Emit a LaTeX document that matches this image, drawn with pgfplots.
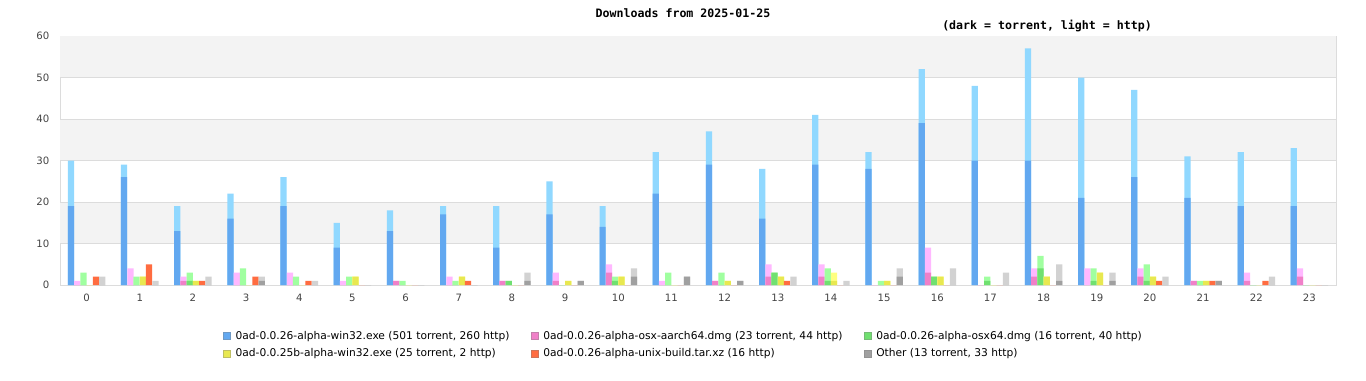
\documentclass[border=0pt]{standalone}
\usepackage{fontspec}
\setmainfont{DejaVu Sans}
\newfontfamily\monofont{DejaVu Sans Mono}
\usepackage{pgfplots}
\usepackage{pgfplotstable}
\pgfplotsset{compat=1.18}

\definecolor{cWd}{HTML}{62A8F0}
\definecolor{cWl}{HTML}{90D8FF}
\definecolor{cPd}{HTML}{F080C8}
\definecolor{cPl}{HTML}{FFB8FF}
\definecolor{cGd}{HTML}{70E070}
\definecolor{cGl}{HTML}{A0FFA0}
\definecolor{cYd}{HTML}{E8E850}
\definecolor{cYl}{HTML}{FFFF80}
\definecolor{cR}{HTML}{FF6C40}
\definecolor{cOd}{HTML}{A0A0A0}
\definecolor{cOl}{HTML}{D2D2D2}
\definecolor{stripe}{HTML}{F3F3F3}
\definecolor{gridc}{HTML}{DCDCDC}
\definecolor{txt}{HTML}{444444}

% h: hour; xT = torrent; xA = torrent+http (total)
\pgfplotstableread{
h wT wA pT pA gT gA yT yA r oT oA
0 19 30 0 1 0 3 0 0 2 0 2
1 26 29 0 4 0 2 2 2 5 0 1
2 13 19 1 2 1 3 1 1 1 0 2
3 16 22 0 3 0 4 0 0 2 1 2
4 19 26 0 3 0 2 0 0 1 0 1
5 9 15 0 1 0 2 2 2 0 0 0
6 13 18 1 1 0 1 0 0 0 0 0
7 17 19 0 2 0 1 2 2 1 0 0
8 9 19 1 1 1 1 0 0 0 1 3
9 17 25 1 3 0 0 1 1 0 1 1
10 14 19 3 5 1 2 2 2 0 2 4
11 22 32 0 1 0 3 0 0 0 2 2
12 29 37 1 1 0 3 1 1 0 1 1
13 16 28 2 5 3 3 2 2 1 0 2
14 29 41 2 5 1 4 1 3 0 0 1
15 28 32 0 0 0 1 1 1 0 2 4
16 39 52 3 9 2 2 2 2 0 0 4
17 30 48 0 0 1 2 0 0 0 0 3
18 30 57 2 4 4 7 2 2 0 1 5
19 21 50 0 4 1 4 3 3 0 1 3
20 26 47 2 4 1 5 2 2 1 0 2
21 21 31 1 1 0 1 1 1 1 1 1
22 19 32 1 3 0 0 0 0 1 0 2
23 19 33 2 4 0 0 0 0 0 0 0
}\data

\pgfplotsset{
  mybar/.style={ybar, bar width=0.1175, bar shift=0pt, draw=none, fill=#1, forget plot},
  legsq/.style={legend image code/.code={\draw[fill=#1,draw=#1!60!gray,line width=0.45pt] (0pt,-2.6pt) rectangle (5.2pt,2.6pt);}}
}

\begin{document}
\begin{tikzpicture}
\useasboundingbox[fill=white] (0,0) rectangle (1024.5pt,285pt);
\node[font=\monofont\bfseries\fontsize{8.7}{10}\selectfont, text=black] at (512.25pt,275.25pt) {Downloads from 2025-01-25};
\node[font=\monofont\bfseries\fontsize{8.7}{10}\selectfont, text=black] at (785.25pt,265.5pt) {(dark = torrent, light = http)};
\begin{axis}[
  at={(45pt,71.25pt)}, anchor=south west,
  scale only axis, width=957pt, height=186.75pt,
  xmin=-0.5, xmax=23.5, ymin=0, ymax=60,
  xtick={0,...,23}, ytick={0,10,...,60},
  major tick length=0pt,
  axis line style={draw=gridc},
  tick label style={font=\fontsize{7.6}{9}\selectfont, text=txt},
  /pgf/number format/assume math mode=true,
  yticklabel style={xshift=-4.5pt},
  xticklabel style={yshift=-3.5pt},
  clip=false,
  legend columns=3,
  legend cell align=left,
  legend style={at={(0.4886,-0.165)}, anchor=north, draw=none, fill=none,
    font=\fontsize{8}{9.5}\selectfont, text=black,
    /tikz/every odd column/.append style={column sep=2.2pt},
    /tikz/every even column/.append style={column sep=14.5pt},
    row sep=2.5pt, nodes={inner sep=1.5pt}},
]
\fill[stripe] (axis cs:-0.5,10) rectangle (axis cs:23.5,20);
\fill[stripe] (axis cs:-0.5,30) rectangle (axis cs:23.5,40);
\fill[stripe] (axis cs:-0.5,50) rectangle (axis cs:23.5,60);
\draw[gridc, line width=0.6pt] (axis cs:-0.5,10) -- (axis cs:23.5,10);
\draw[gridc, line width=0.6pt] (axis cs:-0.5,20) -- (axis cs:23.5,20);
\draw[gridc, line width=0.6pt] (axis cs:-0.5,30) -- (axis cs:23.5,30);
\draw[gridc, line width=0.6pt] (axis cs:-0.5,40) -- (axis cs:23.5,40);
\draw[gridc, line width=0.6pt] (axis cs:-0.5,50) -- (axis cs:23.5,50);

\addplot[mybar=cWl] table[x expr=\thisrow{h}-0.294, y=wA]{\data};
\addplot[mybar=cWd] table[x expr=\thisrow{h}-0.294, y=wT]{\data};
\addplot[mybar=cPl] table[x expr=\thisrow{h}-0.176, y=pA]{\data};
\addplot[mybar=cPd] table[x expr=\thisrow{h}-0.176, y=pT]{\data};
\addplot[mybar=cGl] table[x expr=\thisrow{h}-0.059, y=gA]{\data};
\addplot[mybar=cGd] table[x expr=\thisrow{h}-0.059, y=gT]{\data};
\addplot[mybar=cYl] table[x expr=\thisrow{h}+0.059, y=yA]{\data};
\addplot[mybar=cYd] table[x expr=\thisrow{h}+0.059, y=yT]{\data};
\addplot[mybar=cR] table[x expr=\thisrow{h}+0.176, y=r]{\data};
\addplot[mybar=cOl] table[x expr=\thisrow{h}+0.294, y=oA]{\data};
\addplot[mybar=cOd] table[x expr=\thisrow{h}+0.294, y=oT]{\data};

\addlegendimage{legsq=cWd}\addlegendentry{0ad-0.0.26-alpha-win32.exe (501 torrent, 260 http)}
\addlegendimage{legsq=cPd}\addlegendentry{0ad-0.0.26-alpha-osx-aarch64.dmg (23 torrent, 44 http)}
\addlegendimage{legsq=cGd}\addlegendentry{0ad-0.0.26-alpha-osx64.dmg (16 torrent, 40 http)}
\addlegendimage{legsq=cYd}\addlegendentry{0ad-0.0.25b-alpha-win32.exe (25 torrent, 2 http)}
\addlegendimage{legsq=cR}\addlegendentry{0ad-0.0.26-alpha-unix-build.tar.xz (16 http)}
\addlegendimage{legsq=cOd}\addlegendentry{Other (13 torrent, 33 http)}
\end{axis}
\end{tikzpicture}
\end{document}
